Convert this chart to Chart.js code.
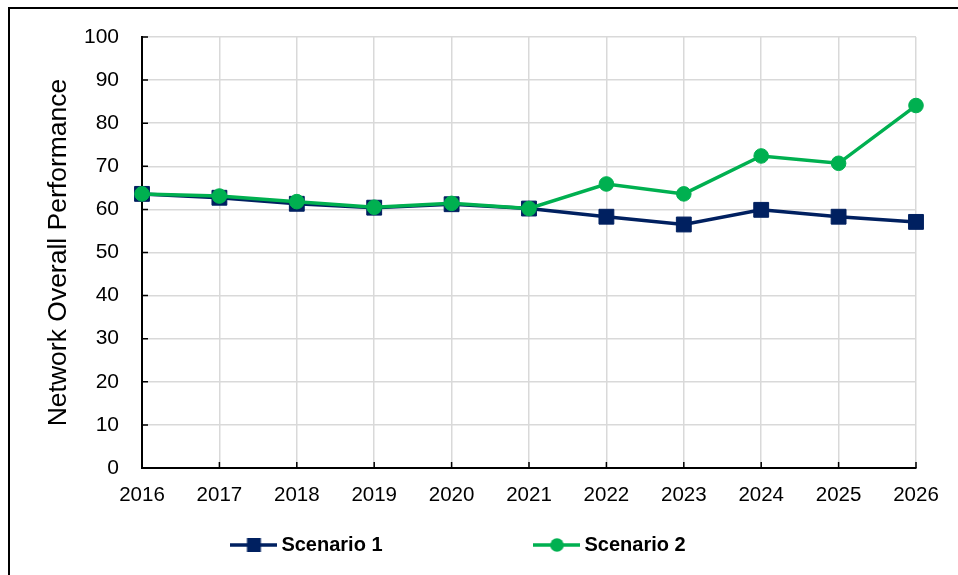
<!DOCTYPE html>
<html>
<head>
<meta charset="utf-8">
<script src="https://cdn.jsdelivr.net/npm/chart.js@4"></script>
<style>
  html, body { margin: 0; padding: 0; background: #fff; }
  #wrap { position: relative; width: 958px; height: 575px; }
  #frame { position: absolute; left: 8px; top: 7px; right: -10px; bottom: -10px;
           border-top: 2px solid #000; border-left: 2px solid #000; pointer-events: none; }
</style>
</head>
<body>
<div id="wrap">
  <canvas id="chart" width="958" height="575"></canvas>
  <div id="frame"></div>
</div>
<script>
// years along the x axis
const years = ['2016', '2017', '2018', '2019', '2020', '2021', '2022', '2023', '2024', '2025', '2026'];

// values
const scenario1 = [63.6, 62.7, 61.3, 60.4, 61.2, 60.2, 58.3, 56.5, 59.9, 58.3, 57.1];
const scenario2 = [63.6, 63.1, 61.8, 60.5, 61.4, 60.2, 65.9, 63.6, 72.4, 70.7, 84.1];

const seriesNames = ['Scenario 1', 'Scenario 2'];
const navy = '#002060';
const green = '#00B050';

// small legend symbol: a line with the marker on it
function legendSymbol(color, shape) {
    const c = document.createElement('canvas');
    c.width = 47;
    c.height = 16;
    const g = c.getContext('2d');
    g.strokeStyle = color;
    g.lineWidth = 3.5;
    g.beginPath();
    g.moveTo(0, 8);
    g.lineTo(47, 8);
    g.stroke();
    g.fillStyle = color;
    if (shape === 'rect') {
        g.fillRect(16.5, 1, 14, 14);
    } else {
        g.beginPath();
        g.arc(23.5, 8, 6.8, 0, Math.PI * 2);
        g.fill();
    }
    return c;
}

function blankSymbol() {
    const c = document.createElement('canvas');
    c.width = 1;
    c.height = 1;
    return c;
}

// draws the short inside tick marks that sit on the axes
const insideTicks = {
    id: 'insideTicks',
    beforeDatasetsDraw(chart) {
        const ctx = chart.ctx;
        const xs = chart.scales.x;
        const ys = chart.scales.y;
        const area = chart.chartArea;
        ctx.save();
        ctx.strokeStyle = '#000';
        ctx.lineWidth = 1.5;
        ctx.beginPath();
        xs.ticks.forEach((t, i) => {
            const px = xs.getPixelForTick(i);
            ctx.moveTo(px, area.bottom);
            ctx.lineTo(px, area.bottom - 6);
        });
        ys.ticks.forEach((t, i) => {
            const py = ys.getPixelForTick(i);
            ctx.moveTo(area.left, py);
            ctx.lineTo(area.left + 6, py);
        });
        ctx.stroke();
        ctx.restore();
    }
};

const ctx = document.getElementById('chart').getContext('2d');
new Chart(ctx, {
    type: 'line',
    data: {
        labels: years,
        datasets: [
            {
                label: seriesNames[0],
                data: scenario1,
                borderColor: navy,
                backgroundColor: navy,
                borderWidth: 3.5,
                pointStyle: 'rect',
                pointRadius: 10.5,
                pointBorderWidth: 1,
                pointBorderColor: navy,
                pointBackgroundColor: navy,
                tension: 0,
                clip: false,
                order: 2
            },
            {
                label: seriesNames[1],
                data: scenario2,
                borderColor: green,
                backgroundColor: green,
                borderWidth: 3.5,
                pointStyle: 'circle',
                pointRadius: 7.3,
                pointBorderWidth: 1,
                pointBorderColor: green,
                pointBackgroundColor: green,
                tension: 0,
                clip: false,
                order: 1
            }
        ]
    },
    options: {
        responsive: false,
        devicePixelRatio: 1,
        animation: false,
        layout: { padding: { left: 6, right: 42, top: 37, bottom: 10 } },
        scales: {
            x: {
                type: 'category',
                offset: false,
                grid: { color: '#d9d9d9', lineWidth: 1.5, drawTicks: false },
                border: { color: '#000', width: 2 },
                ticks: {
                    color: '#000',
                    font: { family: 'Liberation Sans', size: 20.5 },
                    padding: 15,
                    maxRotation: 0,
                    autoSkip: false
                },
                afterFit: scale => { scale.height = 44.7; }
            },
            y: {
                min: 0,
                max: 100,
                grid: { color: '#d9d9d9', lineWidth: 1.5, drawTicks: false },
                border: { color: '#000', width: 2 },
                ticks: {
                    stepSize: 10,
                    color: '#000',
                    font: { family: 'Liberation Sans', size: 21 },
                    padding: 23
                },
                title: {
                    display: true,
                    text: 'Network Overall Performance',
                    color: '#000',
                    font: { family: 'Liberation Sans', size: 26.5 },
                    padding: { top: 37, bottom: 0 }
                },
                afterFit: scale => { scale.width = 136; }
            }
        },
        plugins: {
            tooltip: { enabled: false },
            legend: {
                position: 'bottom',
                labels: {
                    usePointStyle: true,
                    pointStyleWidth: 35,
                    boxHeight: 14,
                    padding: 22.3,
                    color: '#000',
                    font: { family: 'Liberation Sans', size: 20, weight: 'bold' },
                    generateLabels: chart => {
                        const items = chart.data.datasets.map((ds, i) => ({
                            text: ds.label,
                            fillStyle: ds.borderColor,
                            strokeStyle: ds.borderColor,
                            lineWidth: 0,
                            hidden: false,
                            datasetIndex: i,
                            pointStyle: legendSymbol(ds.borderColor, ds.pointStyle)
                        }));
                        // two empty entries keep the wide gap between the series
                        const spacer = () => ({ text: '', fillStyle: 'transparent', strokeStyle: 'transparent',
                            lineWidth: 0, hidden: false, datasetIndex: -1, pointStyle: blankSymbol() });
                        return [items[0], spacer(), spacer(), items[1]];
                    }
                }
            }
        }
    },
    plugins: [insideTicks]
});
</script>
</body>
</html>
